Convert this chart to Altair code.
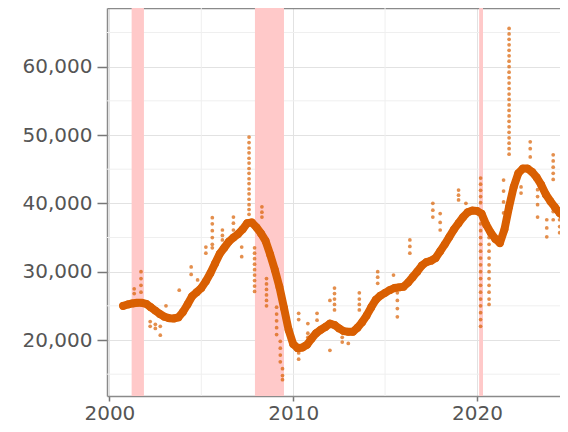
import altair as alt
import pandas as pd

# Trend series (quarterly)
trend_years = [2000.75 + 0.25 * i for i in range(97)]
trend_values = [
    25000, 25200, 25350, 25450, 25450, 25300, 24800, 24300, 23800, 23400,
    23200, 23150, 23300, 24100, 25200, 26400, 27000, 27600, 28600, 29800,
    31200, 32600, 33500, 34400, 35000, 35500, 36200, 37100, 37200, 36500,
    35600, 34500, 32500, 30300, 27800, 24700, 21500, 19400, 18800, 18900,
    19300, 20200, 21000, 21500, 21900, 22400, 22200, 21700, 21300, 21200,
    21200, 21800, 22600, 23600, 24800, 25900, 26500, 26900, 27300, 27600,
    27700, 27800, 28400, 29200, 30000, 30900, 31400, 31600, 32000, 33000,
    34000, 35100, 36200, 37100, 38000, 38700, 38950, 38900, 38500, 36900,
    35700, 34800, 34200, 36200, 39500, 42400, 44400, 45100, 45100, 44600,
    43800, 42700, 41300, 40300, 39400, 38600, 38000,
]

# Scattered raw observations away from the trend: (year, [values])
outlier_groups = [
    (2001.35, [27500, 26800]),
    (2001.72, [30000, 29000, 28000, 27000]),
    (2002.22, [22700, 22000]),
    (2002.5, [21700, 22300]),
    (2002.77, [22000, 20700]),
    (2003.08, [25000]),
    (2003.8, [27300]),
    (2004.45, [30700, 29600]),
    (2004.8, [28800]),
    (2005.25, [33600, 32700]),
    (2005.6, [37900, 37000, 36000, 35000, 34000, 33500]),
    (2006.15, [36100, 35300, 34650]),
    (2006.75, [38000, 37100, 36100]),
    (2007.2, [33600, 32200]),
    (2007.6, [49700, 48900, 48100, 47400, 46600, 45900, 45100, 44400, 43600,
              42900, 42100, 41400, 40600, 39800, 39100, 38400]),
    (2007.9, [33500, 32700, 31900, 31100, 30300, 29500, 28700, 27900, 27100]),
    (2008.3, [39500, 38700, 38000]),
    (2008.55, [29000, 28200, 27400, 26600, 25800, 25000]),
    (2009.1, [24800, 23800, 22800, 21800, 20800]),
    (2009.3, [19800, 18800, 17800, 16800]),
    (2009.42, [15800, 14800, 14200]),
    (2010.3, [23900, 23000, 19000, 18100, 17200]),
    (2010.8, [22400, 21000, 20400]),
    (2011.3, [23900, 22900]),
    (2012.0, [25800, 18500]),
    (2012.25, [27600, 26800, 26000, 25200, 24400]),
    (2012.67, [20400, 19700]),
    (2013.0, [19500]),
    (2013.6, [26900, 26000, 25200, 24400]),
    (2014.6, [30000, 29200, 28300]),
    (2015.46, [29500]),
    (2015.67, [26900, 25800, 24600, 23400]),
    (2016.35, [34650, 33700, 32700]),
    (2017.6, [40000, 39000, 38000]),
    (2018.0, [38500, 37200, 36100]),
    (2019.0, [41950, 41200, 40500]),
    (2019.4, [40000]),
    (2020.2, [43700, 42800, 41900, 41000, 40100, 37000, 36000, 35000, 34000,
              33000, 32000, 31000, 30000, 29000, 28000, 27000, 26000, 25000,
              24000, 23000, 22000]),
    (2020.66, [35000, 34000, 33000, 32000, 31000, 30000, 29000, 28000, 27000,
               26000, 25200]),
    (2021.45, [43400, 41800, 40200, 38600]),
    (2021.75, [65600, 64800, 64000, 63200, 62400, 61600, 60800, 60000, 59200,
               58400, 57600, 56800, 56000, 55200, 54400, 53600, 52800, 52000,
               51200, 50400, 49600, 48800, 48000, 47200]),
    (2022.4, [42400, 41500]),
    (2022.9, [49000, 48000, 46800]),
    (2023.3, [42000, 41000, 39800, 38000]),
    (2023.8, [37600, 36400, 35100]),
    (2024.15, [47100, 46200, 45300, 44400, 43500, 40000, 38800, 37600]),
    (2024.5, [37600, 36600, 35700]),
]

rec_start = [2001.21, 2007.92, 2020.12]
rec_end = [2001.88, 2009.5, 2020.33]

x_major = [2000, 2010, 2020]
x_minor = [2005, 2015]
y_major = [20000, 30000, 40000, 50000, 60000]
y_minor = [15000, 25000, 35000, 45000, 55000, 65000]

trend_df = pd.DataFrame({"year": trend_years, "value": trend_values})
out_rows = [(y, v) for y, vals in outlier_groups for v in vals]
out_df = pd.DataFrame(out_rows, columns=["year", "value"])
rec_df = pd.DataFrame({"start": rec_start, "end": rec_end})
xminor_df = pd.DataFrame({"year": x_minor})
yminor_df = pd.DataFrame({"value": y_minor})

ORANGE = "#d95f02"
MINOR = "#efefef"
xscale = alt.Scale(domain=[1999.87, 2024.52], nice=False, zero=False)
yscale = alt.Scale(domain=[11805, 68590], nice=False, zero=False)

xaxis = alt.Axis(title=None, values=x_major, format="d", tickSize=5, labelPadding=2)
xtop = alt.Axis(title=None, orient="top", labels=False, ticks=False, grid=False,
                domain=True)
yaxis = alt.Axis(title=None, values=y_major, format=",.0f", tickSize=10, labelPadding=5)

xminor = alt.Chart(xminor_df).mark_rule(color=MINOR, strokeWidth=1).encode(
    x=alt.X("year:Q", scale=xscale, axis=xaxis),
)
yminor = alt.Chart(yminor_df).mark_rule(color=MINOR, strokeWidth=1).encode(
    y=alt.Y("value:Q", scale=yscale, axis=yaxis),
)

bands = alt.Chart(rec_df).mark_rect(color="#ffc9c9", opacity=1).encode(
    x=alt.X("start:Q", scale=xscale, axis=xtop),
    x2="end:Q",
)

outliers = alt.Chart(out_df).mark_circle(size=14, color=ORANGE, opacity=0.7, clip=True).encode(
    x=alt.X("year:Q", scale=xscale, axis=None),
    y=alt.Y("value:Q", scale=yscale),
)

line = alt.Chart(trend_df).mark_line(
    color=ORANGE, strokeWidth=8, strokeCap="round", strokeJoin="round", clip=True
).encode(
    x=alt.X("year:Q", scale=xscale, axis=None),
    y=alt.Y("value:Q", scale=yscale),
)

pts = alt.Chart(trend_df).mark_circle(size=60, color=ORANGE, opacity=1, clip=True).encode(
    x=alt.X("year:Q", scale=xscale, axis=None),
    y=alt.Y("value:Q", scale=yscale),
)

chart = alt.layer(xminor, yminor, bands, outliers, line, pts).resolve_axis(
    x="independent"
).properties(
    width=453,
    height=388,
    padding={"left": 99, "top": 0, "right": 0, "bottom": 27},
    autosize="none",
).configure_view(
    stroke="transparent"
).configure_axis(
    labelFont="DejaVu Sans",
    labelFontSize=20,
    labelColor="#555555",
    domainColor="#8a8a8a",
    domainWidth=1.5,
    tickColor="#777777",
    tickWidth=1.5,
    gridColor="#e2e2e2",
    gridWidth=1,
)

chart.save("out.html", embed_options={"renderer": "svg", "actions": False})
